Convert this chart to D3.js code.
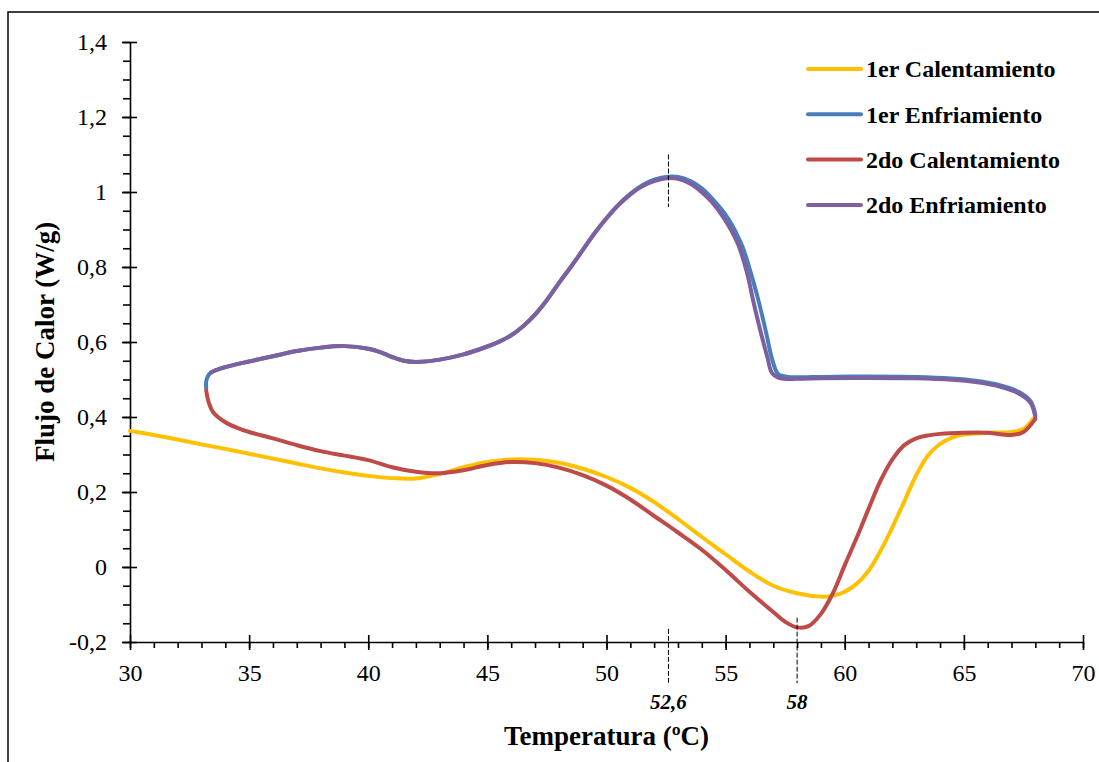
<!DOCTYPE html>
<html>
<head>
<meta charset="utf-8">
<script src="https://cdn.jsdelivr.net/npm/d3@7"></script>
<style>
  body { margin: 0; background: #fff; }
  text { font-family: "Liberation Serif", "Times New Roman", serif; fill: #000; }
</style>
</head>
<body>
<div id="chart"></div>
<script>
// curves: [temperature, heat flow]
const calent1 = [
  [30, 0.363], [31, 0.352], [32, 0.340], [33, 0.327], [34, 0.315], [35, 0.302],
  [36, 0.289], [37, 0.276], [38, 0.263], [39, 0.252], [40, 0.243], [41, 0.237],
  [42, 0.236], [43, 0.248], [44, 0.266], [45, 0.280], [46, 0.287], [47, 0.286],
  [48, 0.278], [49, 0.262], [50, 0.240], [51, 0.211], [52, 0.173], [53, 0.128],
  [54, 0.080], [55, 0.034], [56, -0.012], [57, -0.050], [58, -0.070], [59, -0.079],
  [59.5, -0.077], [60, -0.066], [60.5, -0.045], [61, -0.010], [61.5, 0.043],
  [62, 0.106], [62.5, 0.175], [63, 0.245], [63.5, 0.298], [64, 0.328], [64.5, 0.345],
  [65, 0.353], [66, 0.358], [67, 0.360], [67.5, 0.368], [67.9, 0.395]
]
const enfr1 = [
  [68, 0.405], [67.8, 0.442], [67.3, 0.467], [66.5, 0.485], [65.5, 0.497], [64.5, 0.503],
  [63, 0.507], [61, 0.508], [59, 0.507], [58.2, 0.506], [57.6, 0.507], [57.2, 0.515],
  [56.95, 0.555], [56.7, 0.625], [56.4, 0.705], [56.1, 0.775], [55.7, 0.855], [55.1, 0.930],
  [54.5, 0.978], [54, 1.010], [53.5, 1.030], [53, 1.040], [52.6, 1.041], [52, 1.033],
  [51.5, 1.018], [51, 0.995], [50.5, 0.966], [50, 0.930], [49.5, 0.890], [49, 0.845],
  [48.5, 0.800], [48, 0.757], [47.5, 0.712], [47, 0.673], [46.5, 0.642], [46, 0.618],
  [45.5, 0.601], [45, 0.588], [44, 0.567], [43, 0.553], [42, 0.547], [41.5, 0.550],
  [41, 0.560], [40.5, 0.573], [40, 0.582], [39, 0.589], [38, 0.585], [37, 0.576],
  [36, 0.562], [35, 0.548], [34, 0.533], [33.5, 0.522], [33.3, 0.512], [33.2, 0.495],
  [33.2, 0.475]
]
const calent2 = [
  [33.2, 0.470], [33.3, 0.440], [33.5, 0.412], [34, 0.386], [34.5, 0.371], [35, 0.360],
  [36, 0.343], [37, 0.325], [38, 0.309], [39, 0.297], [40, 0.285], [41, 0.266],
  [42, 0.254], [43, 0.250], [44, 0.258], [45, 0.272], [46, 0.280], [47, 0.277],
  [48, 0.265], [49, 0.245], [50, 0.217], [51, 0.180], [52, 0.136], [53, 0.092],
  [54, 0.046], [55, -0.008], [56, -0.066], [57, -0.120], [57.5, -0.146], [58, -0.161],
  [58.5, -0.157], [59, -0.125], [59.5, -0.070], [60, 0.005], [60.5, 0.078], [61, 0.155],
  [61.5, 0.230], [62, 0.287], [62.5, 0.325], [63, 0.343], [63.5, 0.351], [64, 0.355],
  [65, 0.358], [66, 0.358], [67, 0.352], [67.5, 0.360], [68, 0.395]
]
const enfr2 = [
  [68, 0.400], [67.8, 0.438], [67.3, 0.463], [66.5, 0.481], [65.5, 0.493], [64.5, 0.499],
  [63, 0.503], [61, 0.504], [59, 0.503], [58, 0.502], [57.3, 0.503], [56.95, 0.517],
  [56.75, 0.560], [56.45, 0.632], [56.15, 0.712], [55.9, 0.784], [55.5, 0.864], [54.9, 0.933],
  [54.4, 0.975], [53.9, 1.005], [53.5, 1.023], [53, 1.035], [52.6, 1.037], [52, 1.029],
  [51.5, 1.015], [51, 0.993], [50.5, 0.965], [50, 0.930], [49.5, 0.890], [49, 0.845],
  [48.5, 0.800], [48, 0.757], [47.5, 0.712], [47, 0.673], [46.5, 0.642], [46, 0.618],
  [45.5, 0.601], [45, 0.588], [44, 0.567], [43, 0.553], [42, 0.547], [41.5, 0.550],
  [41, 0.560], [40.5, 0.573], [40, 0.582], [39, 0.589], [38, 0.585], [37, 0.576],
  [36, 0.562], [35, 0.548], [34, 0.533], [33.5, 0.522], [33.4, 0.519]
]

const seriesNames = ["1er Calentamiento", "1er Enfriamiento", "2do Calentamiento", "2do Enfriamiento"]
const seriesData = [calent1, enfr1, calent2, enfr2]
const seriesColors = ["#FFC000", "#4A7EBB", "#BE4B48", "#7D60A0"]

const xTicks = [30, 35, 40, 45, 50, 55, 60, 65, 70]
const yTicks = [-0.2, 0, 0.2, 0.4, 0.6, 0.8, 1, 1.2, 1.4]

// dashed markers: temperature, from, to
const markers = [[52.6, 1.10, 0.96], [52.6, -0.165, -0.31], [58, -0.135, -0.31]]
const markerLabels = [[52.6, "52,6"], [58, "58"]]

const width = 1099, height = 762
const margin = {left: 130, right: 16, top: 42, bottom: 120}

const svg = d3.select("#chart").append("svg")
    .attr("width", width)
    .attr("height", height)

// outer frame (only left and top show in the picture)
svg.append("rect")
    .attr("x", 8).attr("y", 12)
    .attr("width", width + 20).attr("height", height + 20)
    .attr("fill", "none").attr("stroke", "#000").attr("stroke-width", 1.5)

let x = d3.scaleLinear().domain([30, 70]).range([margin.left, width - margin.right])
let y = d3.scaleLinear().domain([-0.2, 1.4]).range([height - margin.bottom, margin.top])

let comma = d => String(+d.toFixed(1)).replace(".", ",")

// minor ticks
svg.append("g")
    .attr("transform", `translate(0, ${y(-0.2)})`)
    .call(d3.axisBottom(x).ticks(40).tickSize(6).tickFormat(""))
    .call(g => g.select(".domain").remove())
svg.append("g")
    .attr("transform", `translate(${x(30)}, 0)`)
    .call(d3.axisLeft(y).ticks(40).tickSize(7).tickFormat(""))
    .call(g => g.select(".domain").remove())

// major ticks cross the axis line
let xAxis = svg.append("g")
    .attr("transform", `translate(0, ${y(-0.2)})`)
    .call(d3.axisBottom(x).tickValues(xTicks).tickSize(8).tickSizeOuter(0).tickPadding(14).tickFormat(d => d))
xAxis.selectAll(".tick line").attr("y1", -7)
xAxis.selectAll("text").style("font-size", "24px")

let yAxis = svg.append("g")
    .attr("transform", `translate(${x(30)}, 0)`)
    .call(d3.axisLeft(y).tickValues(yTicks).tickSize(8).tickSizeOuter(0).tickPadding(15).tickFormat(comma))
yAxis.selectAll(".tick line").attr("x1", 7)
yAxis.selectAll("text").style("font-size", "24px")

svg.selectAll("g").attr("font-family", null)
svg.selectAll(".domain, .tick line").attr("stroke", "#000").attr("stroke-width", 1.6)

let line = d3.line()
    .x(d => x(d[0]))
    .y(d => y(d[1]))
    .curve(d3.curveCatmullRom.alpha(0.5))

svg.append("g").selectAll("path")
    .data(seriesData)
    .enter()
    .append("path")
    .attr("d", line)
    .attr("fill", "none")
    .attr("stroke", (d, i) => seriesColors[i])
    .attr("stroke-width", 4)
    .attr("stroke-linejoin", "round")
    .attr("stroke-linecap", "round")

svg.append("g").selectAll("line")
    .data(markers)
    .enter()
    .append("line")
    .attr("x1", d => x(d[0])).attr("x2", d => x(d[0]))
    .attr("y1", d => y(d[1])).attr("y2", d => y(d[2]))
    .attr("stroke", "#000")
    .attr("stroke-width", 1)
    .attr("stroke-dasharray", "5,2")

svg.append("g").selectAll("text")
    .data(markerLabels)
    .enter()
    .append("text")
    .attr("x", d => x(d[0]))
    .attr("y", 709)
    .attr("text-anchor", "middle")
    .style("font-size", "21px")
    .style("font-weight", "bold")
    .style("font-style", "italic")
    .text(d => d[1])

// axis titles
svg.append("text")
    .attr("x", (x(30) + x(70)) / 2)
    .attr("y", 745)
    .attr("text-anchor", "middle")
    .style("font-size", "27px")
    .style("font-weight", "bold")
    .text("Temperatura (ºC)")

svg.append("text")
    .attr("transform", `translate(54, ${(y(-0.2) + y(1.4)) / 2}) rotate(-90)`)
    .attr("text-anchor", "middle")
    .style("font-size", "27px")
    .style("font-weight", "bold")
    .text("Flujo de Calor (W/g)")

// legend
let legend = svg.append("g").selectAll("g")
    .data(seriesNames)
    .enter()
    .append("g")
    .attr("transform", (d, i) => `translate(808, ${69 + i * 45.3})`)

legend.append("line")
    .attr("x1", 0).attr("x2", 53)
    .attr("stroke", (d, i) => seriesColors[i])
    .attr("stroke-width", 4)
    .attr("stroke-linecap", "round")

legend.append("text")
    .attr("x", 58)
    .attr("dy", "0.35em")
    .style("font-size", "24px")
    .style("font-weight", "bold")
    .text(d => d)
</script>
</body>
</html>
